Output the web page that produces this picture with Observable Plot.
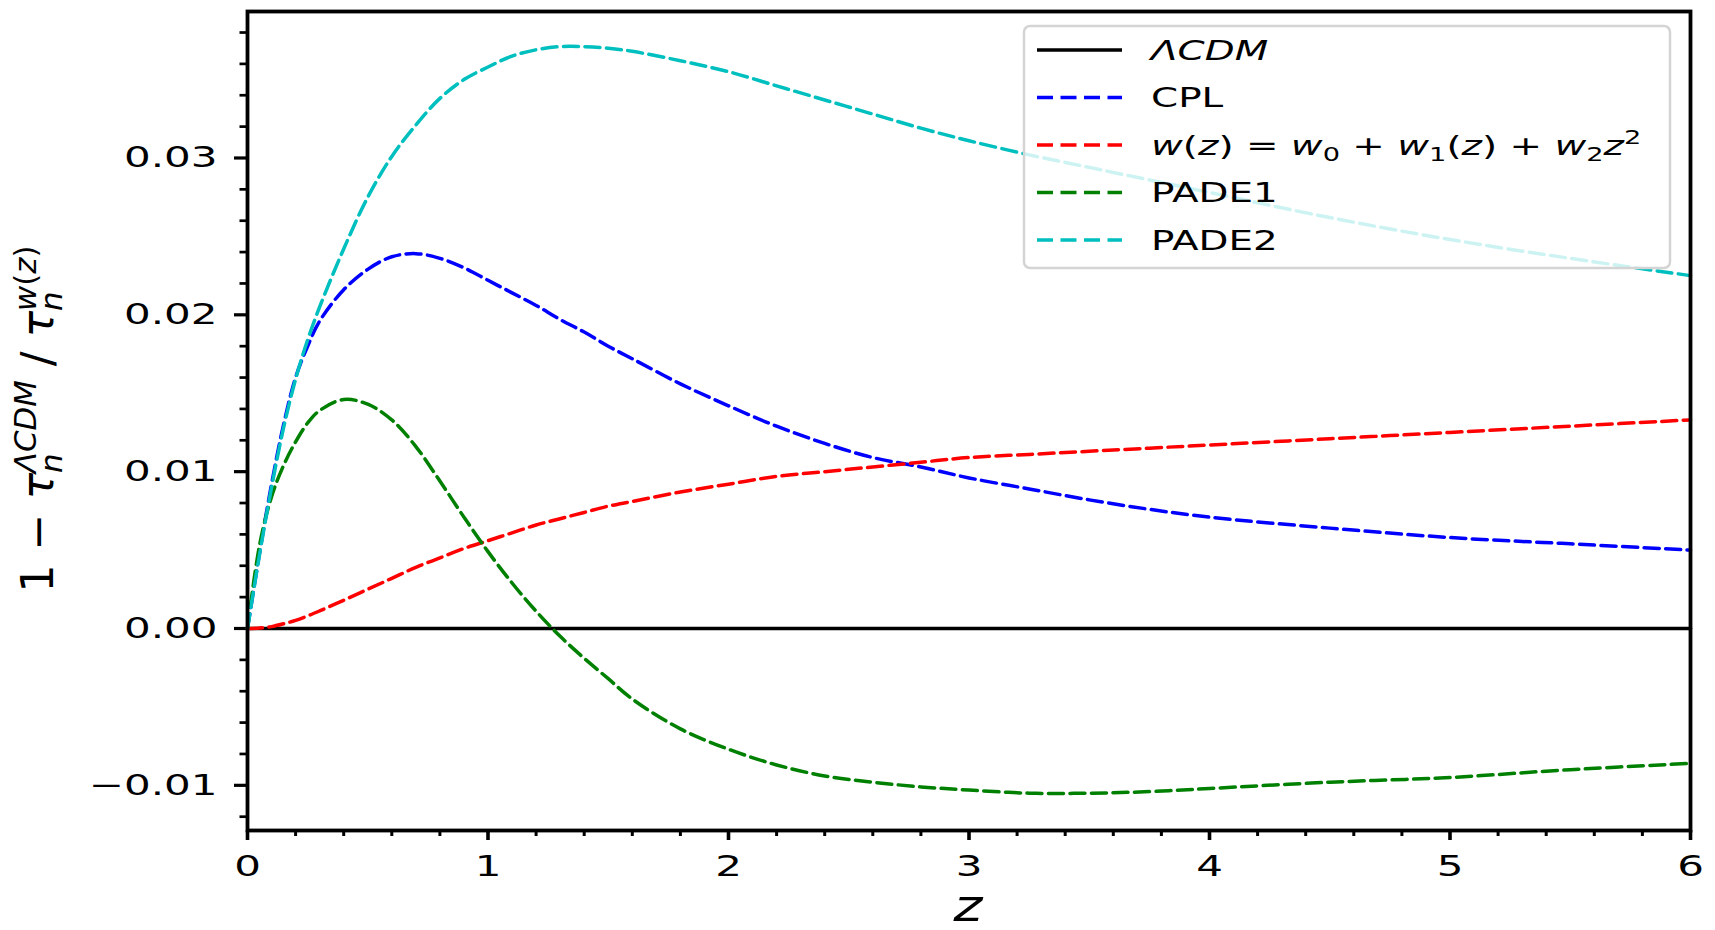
<!DOCTYPE html>
<html>
<head>
<meta charset="utf-8">
<script src="https://cdn.jsdelivr.net/npm/d3@7"></script>
<script src="https://cdn.jsdelivr.net/npm/@observablehq/plot@0.6"></script>
<style>
  html, body { margin: 0; padding: 0; background: #fff; }
  #chart { position: relative; width: 1715px; height: 930px; }
</style>
</head>
<body>
<div id="chart"></div>
<script>
// ---- data ----
const z = [0, 0.05, 0.1, 0.15, 0.2, 0.25, 0.3, 0.4, 0.5, 0.6, 0.7, 0.8, 0.9, 1.0, 1.1, 1.2, 1.3, 1.4, 1.5, 1.6, 1.8, 2.0, 2.2, 2.4, 2.6, 2.8, 3.0, 3.25, 3.5, 3.75, 4.0, 4.5, 5.0, 5.5, 6.0];

const cpl   = [0, 0.0048, 0.0092, 0.0130, 0.0160, 0.0180, 0.0196, 0.0216, 0.0229, 0.0237, 0.0239, 0.0236, 0.0230, 0.0222, 0.0214, 0.0206, 0.0197, 0.0189, 0.0180, 0.0172, 0.0156, 0.0142, 0.0129, 0.0118, 0.0109, 0.0103, 0.0096, 0.0089, 0.0082, 0.0076, 0.0071, 0.0064, 0.0058, 0.0054, 0.0050];
const quad  = [0, 0.00003, 0.00012, 0.0003, 0.00052, 0.0008, 0.00112, 0.0018, 0.0025, 0.0032, 0.0039, 0.0045, 0.0051, 0.0056, 0.0061, 0.0066, 0.0070, 0.0074, 0.0078, 0.0081, 0.0087, 0.0092, 0.0097, 0.0100, 0.0103, 0.0106, 0.0109, 0.0111, 0.0113, 0.0115, 0.0117, 0.0121, 0.0125, 0.0129, 0.0133];
const pade1 = [0, 0.0053, 0.0084, 0.0104, 0.0119, 0.0131, 0.0139, 0.0146, 0.0143, 0.0133, 0.0116, 0.0094, 0.0071, 0.0049, 0.0029, 0.0011, -0.0005, -0.0019, -0.0032, -0.0045, -0.0064, -0.0077, -0.0087, -0.0094, -0.0098, -0.0101, -0.0103, -0.0105, -0.0105, -0.0104, -0.0102, -0.0098, -0.0095, -0.0090, -0.0086];
const pade2 = [0, 0.0047, 0.0090, 0.0128, 0.0159, 0.0184, 0.0205, 0.0242, 0.0275, 0.0301, 0.0321, 0.0338, 0.0350, 0.0358, 0.0365, 0.0369, 0.0371, 0.0371, 0.0370, 0.0368, 0.0362, 0.0355, 0.0346, 0.0337, 0.0328, 0.0319, 0.0311, 0.0302, 0.0294, 0.0286, 0.0278, 0.0262, 0.0248, 0.0236, 0.0225];

const lcdmZ = [0, 6];
const lcdmV = [0, 0];

const seriesNames  = ["ΛCDM", "CPL", "w(z)", "PADE1", "PADE2"];
const seriesColors = ["#000000", "#0000ff", "#ff0000", "#008000", "#00bfbf"];

const xMajor = [0, 1, 2, 3, 4, 5, 6];
const xTickLabels = ["0", "1", "2", "3", "4", "5", "6"];
const xMinor = [0.2, 0.4, 0.6, 0.8, 1.2, 1.4, 1.6, 1.8, 2.2, 2.4, 2.6, 2.8, 3.2, 3.4, 3.6, 3.8, 4.2, 4.4, 4.6, 4.8, 5.2, 5.4, 5.6, 5.8];
const yMajor = [-0.01, 0, 0.01, 0.02, 0.03];
const yTickLabels = ["−0.01", "0.00", "0.01", "0.02", "0.03"];
const yMinor = [-0.012, -0.008, -0.006, -0.004, -0.002, 0.002, 0.004, 0.006, 0.008, 0.012, 0.014, 0.016, 0.018, 0.022, 0.024, 0.026, 0.028, 0.032, 0.034, 0.036, 0.038];

// ---- build table ----
const dashedSeries = [cpl, quad, pade1, pade2];
const rows = [];
dashedSeries.forEach((vals, k) => {
  z.forEach((zz, j) => rows.push({ z: zz, v: vals[j], s: seriesNames[k + 1] }));
});
const lcdmRows = lcdmZ.map((zz, j) => ({ z: zz, v: lcdmV[j] }));

const FONT = "DejaVu Sans";
const DASH = "15,6.5";

const plot = Plot.plot({
  width: 1715,
  height: 930,
  marginLeft: 247,
  marginRight: 25,
  marginTop: 11,
  marginBottom: 100,
  style: { fontFamily: FONT, fontSize: "29px", color: "black", background: "white", overflow: "visible" },
  x: { domain: [0, 6] },
  y: { domain: [-0.01288, 0.03934] },
  color: { domain: seriesNames, range: seriesColors },
  marks: [
    Plot.axisX({ ticks: xMajor, tickSize: 10, tickPadding: 15, strokeWidth: 3.6, label: null,
                 tickFormat: d => xTickLabels[xMajor.indexOf(d)], fontSize: 29 }),
    Plot.axisX({ ticks: xMinor, tickSize: 6, strokeWidth: 3, label: null, tickFormat: () => "" }),
    Plot.axisY({ ticks: yMajor, tickSize: 13, tickPadding: 17, strokeWidth: 3.2, label: null,
                 tickFormat: d => yTickLabels[yMajor.indexOf(d)], fontSize: 29 }),
    Plot.axisY({ ticks: yMinor, tickSize: 7.5, strokeWidth: 2.7, label: null, tickFormat: () => "" }),
    Plot.line(lcdmRows, { x: "z", y: "v", stroke: "black", strokeWidth: 3.6 }),
    Plot.line(rows, { x: "z", y: "v", z: "s", stroke: "s", strokeWidth: 3.5, strokeDasharray: DASH,
                      curve: "catmull-rom" }),
    Plot.frame({ stroke: "black", strokeWidth: 3.8 })
  ]
});

document.getElementById("chart").appendChild(plot);
const svg = d3.select(plot);

// horizontally widened glyphs as in the reference (x only; keep y / dy offsets)
function stretch(t, s) {
  const tr = t.getAttribute("transform") || "";
  const x = parseFloat(t.getAttribute("x")) || 0;
  t.removeAttribute("x");
  t.setAttribute("transform", `${tr} translate(${x},0) scale(${s},1)`);
}
plot.querySelectorAll('g[aria-label="x-axis tick label"] text, g[aria-label="y-axis tick label"] text')
  .forEach(t => stretch(t, 1.45));

// ---- axis labels ----
svg.append("text")
  .attr("transform", "translate(968,921) scale(1.25,1)")
  .attr("text-anchor", "middle")
  .style("font-family", FONT).style("font-style", "italic").style("font-size", "44px")
  .attr("fill", "black").text("z");

const ctx = document.createElement("canvas").getContext("2d");
function measure(str, font) { ctx.font = font; return ctx.measureText(str).width; }
const ySize = 44, ySub = 44 * 0.7;
const nW = measure("n", `italic ${ySub}px "${FONT}"`);

const yl = svg.append("text")
  .attr("transform", "translate(53,419) rotate(-90)")
  .attr("text-anchor", "middle")
  .style("font-family", FONT).style("font-size", ySize + "px").attr("fill", "black");
yl.append("tspan").text("1 − ");
yl.append("tspan").style("font-style", "italic").text("τ");
yl.append("tspan").style("font-style", "italic").style("font-size", ySub + "px").attr("dy", "9").text("n");
yl.append("tspan").style("font-style", "italic").style("font-size", ySub + "px").attr("dx", -nW).attr("dy", "-26").text("ΛCDM");
yl.append("tspan").attr("dy", "17").text(" / ");
yl.append("tspan").style("font-style", "italic").text("τ");
yl.append("tspan").style("font-style", "italic").style("font-size", ySub + "px").attr("dy", "9").text("n");
yl.append("tspan").style("font-style", "italic").style("font-size", ySub + "px").attr("dx", -nW).attr("dy", "-26").text("w");
yl.append("tspan").style("font-size", ySub + "px").text("(");
yl.append("tspan").style("font-style", "italic").style("font-size", ySub + "px").text("z");
yl.append("tspan").style("font-size", ySub + "px").text(")");

// ---- legend ----
const leg = svg.append("g");
leg.append("rect")
  .attr("x", 1024).attr("y", 26).attr("width", 646).attr("height", 242).attr("rx", 6)
  .attr("fill", "white").attr("fill-opacity", 0.8)
  .attr("stroke", "#d4d4d4").attr("stroke-width", 2.5);
const rowY = [50, 97.5, 145, 192.5, 240];
const legFont = 27;
seriesNames.forEach((name, i) => {
  leg.append("line")
    .attr("x1", 1037).attr("x2", 1122).attr("y1", rowY[i]).attr("y2", rowY[i])
    .attr("stroke", seriesColors[i]).attr("stroke-width", i === 0 ? 3.6 : 3.5)
    .attr("stroke-dasharray", i === 0 ? null : "16,7.5");
  const t = leg.append("text")
    .attr("transform", `translate(1151,${rowY[i] + 0.365 * legFont}) scale(1.44,1)`)
    .attr("text-anchor", "start")
    .style("font-family", FONT).style("font-size", legFont + "px").attr("fill", "black");
  if (i === 0) {
    t.append("tspan").style("font-style", "italic").text("ΛCDM");
  } else if (i === 2) {
    const sub = legFont * 0.7;
    const it = s => t.append("tspan").style("font-style", "italic").text(s);
    const up = s => t.append("tspan").text(s);
    it("w"); up("("); it("z"); up(") = "); it("w");
    t.append("tspan").style("font-size", sub + "px").attr("dy", 6).text("0");
    t.append("tspan").attr("dy", -6).text(" + ");
    it("w");
    t.append("tspan").style("font-size", sub + "px").attr("dy", 6).text("1");
    t.append("tspan").attr("dy", -6).text("(");
    it("z"); up(") + "); it("w");
    t.append("tspan").style("font-size", sub + "px").attr("dy", 6).text("2");
    t.append("tspan").style("font-style", "italic").attr("dy", -6).text("z");
    t.append("tspan").style("font-size", sub + "px").attr("dy", -11).text("2");
  } else {
    t.text(name);
  }
});
</script>
</body>
</html>
